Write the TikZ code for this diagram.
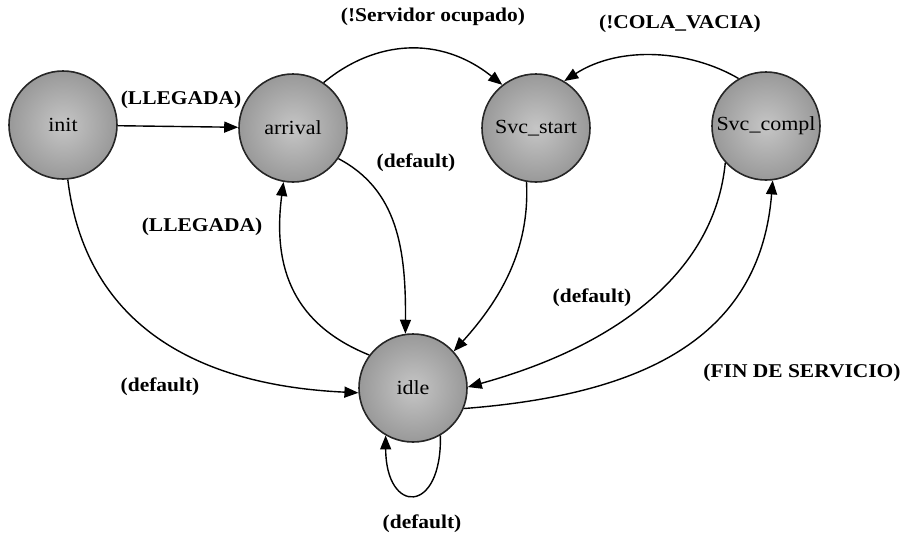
\documentclass[tikz,border=0pt]{standalone}
\usepackage{fontspec}
\setmainfont[FakeStretch=1.1]{Liberation Serif}
\usetikzlibrary{arrows.meta}
\begin{document}
\begin{tikzpicture}[x=1pt,y=-1pt,
  state/.style={circle,minimum size=108pt,inner sep=0pt,draw=black!85,line width=1.6pt,
    inner color=gray!45,outer color=gray!80,font=\fontsize{20}{22}\selectfont},
  trans/.style={line width=1.4pt,-{Triangle[length=14pt,width=11pt]}},
  cond/.style={font=\fontsize{19.5}{21}\selectfont\bfseries,inner sep=1pt}]
\useasboundingbox (0,0) rectangle (904,536);

% states
\node[state] (init) at (63,125) {init};
\node[state] (arr)  at (293,128) {arrival};
\node[state] (ss)   at (536,128) {Svc\_start};
\node[state] (sc)   at (766,126) {Svc\_compl};
\node[state] (idle) at (413,388) {idle};

% transitions
\draw[trans] (init) -- (arr);
\draw[trans] (arr.56) .. controls (375,40) and (440,35) .. (ss.128);
\draw[trans] (sc.120) .. controls (690,50) and (620,45) .. (ss.59);
\draw[trans] (arr.-34) .. controls (398,190) and (406,250) .. (idle.98);
\draw[trans] (idle.143) .. controls (295,325) and (272,270) .. (arr.-100);
\draw[trans] (init.-85) .. controls (85,320) and (190,385) .. (idle.185);
\draw[trans] (ss.-100) .. controls (530,250) and (500,300) .. (idle.42);
\draw[trans] (sc.-138) .. controls (715,270) and (620,345) .. (idle.1);
\draw[trans] (idle.-22) .. controls (640,395) and (760,340) .. (sc.-83);
\draw[trans] (idle.-60) .. controls (442,515) and (386,515) .. (idle.-120);

% transition conditions
\node[cond] (c1) at (181,100) {(LLEGADA)};
\node[cond] (c2) at (433,17)  {(!Servidor ocupado)};
\node[cond] (c3) at (680,24)  {(!COLA\_VACIA)};
\node[cond] (c4) at (416,163) {(default)};
\node[cond] (c5) at (202,227) {(LLEGADA)};
\node[cond] (c6) at (160,387) {(default)};
\node[cond] (c7) at (592,298) {(default)};
\node[cond] (c8) at (802,373) {(FIN DE SERVICIO)};
\node[cond] (c9) at (422,524) {(default)};
\end{tikzpicture}
\end{document}
